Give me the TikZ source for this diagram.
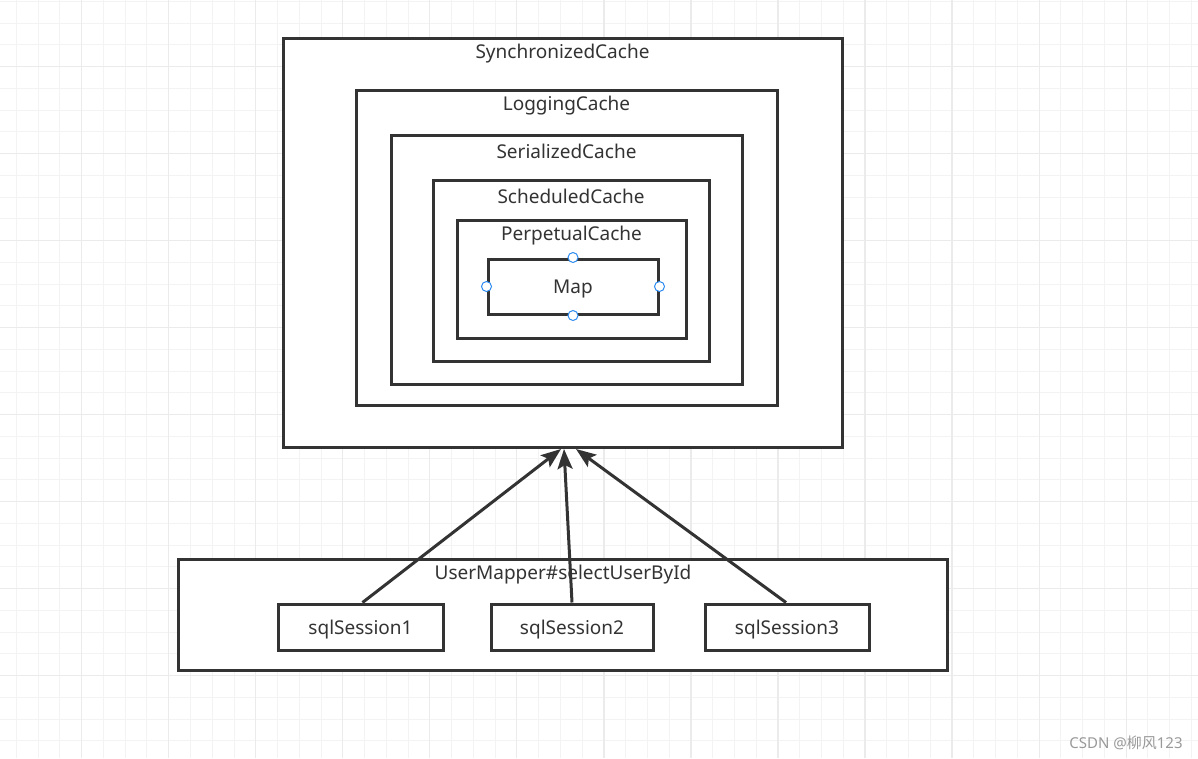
\documentclass[tikz,border=0pt]{standalone}
\usepackage{fontspec}
\setmainfont{Noto Sans}
\newfontfamily\cjkfont{Noto Sans CJK SC}
\usetikzlibrary{arrows.meta,calc}
\definecolor{ink}{HTML}{333333}
\definecolor{gridminor}{HTML}{F3F3F3}
\definecolor{gridmajor}{HTML}{EBEBEB}
\definecolor{handle}{HTML}{2D8CF0}
\tikzset{
  box/.style={draw=ink, line width=3pt, fill=white, inner sep=0pt},
  lbl/.style={text=ink, font=\fontsize{19}{22}\selectfont, inner sep=0pt, anchor=center},
  arr/.style={draw=ink, line width=3pt, -{Stealth[length=20pt,width=15pt,inset=4pt]}},
  hdl/.style={circle, draw=handle, fill=white, line width=1pt, minimum size=10pt, inner sep=0pt},
}
\begin{document}
\begin{tikzpicture}[x=1pt,y=-1pt]
\useasboundingbox (0,0) rectangle (1198,758);
\fill[white] (0,0) rectangle (1198,758);
% grid
\foreach \i in {0,...,55} {
  \pgfmathsetmacro{\xx}{16.4+21.76*\i}
  \draw[gridminor, line width=1pt] (\xx,0) -- (\xx,758);
}
\foreach \i in {0,...,35} {
  \pgfmathsetmacro{\yy}{1.45+21.75*\i}
  \draw[gridminor, line width=1pt] (0,\yy) -- (1198,\yy);
}
\foreach \i in {3,7,...,55} {
  \pgfmathsetmacro{\xx}{16.4+21.76*\i}
  \draw[gridmajor, line width=1.2pt] (\xx,0) -- (\xx,758);
}
\foreach \i in {3,7,...,35} {
  \pgfmathsetmacro{\yy}{1.45+21.75*\i}
  \draw[gridmajor, line width=1.2pt] (0,\yy) -- (1198,\yy);
}
% nested caches
\node[box, minimum width=559pt, minimum height=409pt] (sync) at (562.5,242.5) {};
\node[lbl] (synct) at (562.5,54) {SynchronizedCache};
\node[box, minimum width=421pt, minimum height=315pt] (logc) at (566.5,247.5) {};
\node[lbl] (logt) at (566.5,106) {LoggingCache};
\node[box, minimum width=351pt, minimum height=249pt] (serc) at (566.5,259.5) {};
\node[lbl] (sert) at (566.5,151) {SerializedCache};
\node[box, minimum width=276pt, minimum height=181pt] (schc) at (571,270.5) {};
\node[lbl] (scht) at (571,196) {ScheduledCache};
\node[box, minimum width=229pt, minimum height=118pt] (perc) at (571.5,279) {};
\node[lbl] (pert) at (571.5,236) {PerpetualCache};
\node[box, minimum width=170pt, minimum height=55pt] (map) at (573,286.5) {};
\node[lbl] (mapt) at (573,289) {Map};
\node[hdl] (h1) at (map.north) {};
\node[hdl] (h2) at (map.south) {};
\node[hdl] (h3) at (map.west) {};
\node[hdl] (h4) at (map.east) {};
% mapper
\node[box, minimum width=769pt, minimum height=111pt] (mapper) at (562.5,614.5) {};
\node[lbl] (mappert) at (563,575) {UserMapper\#selectUserById};
\node[box, minimum width=165pt, minimum height=46pt] (s1) at (360.5,627) {};
\node[lbl] (s1t) at (360.5,630) {sqlSession1};
\node[box, minimum width=162pt, minimum height=46pt] (s2) at (572,627) {};
\node[lbl] (s2t) at (572,630) {sqlSession2};
\node[box, minimum width=164pt, minimum height=46pt] (s3) at (787,627) {};
\node[lbl] (s3t) at (787,630) {sqlSession3};
% arrows
\coordinate (t1) at (561,449);
\coordinate (t2) at (564,449);
\coordinate (t3) at (576,449);
\draw[arr] ($(s1.north)+(2,0)$) -- (t1);
\draw[arr] (s2.north) -- (t2);
\draw[arr] ($(s3.north)+(-1,0)$) -- (t3);
% watermark
\node[text=gray!80, font=\fontsize{15}{17}\selectfont, inner sep=0pt] (wm) at (1126,743) {CSDN @{\cjkfont 柳风}123};
\end{tikzpicture}
\end{document}
